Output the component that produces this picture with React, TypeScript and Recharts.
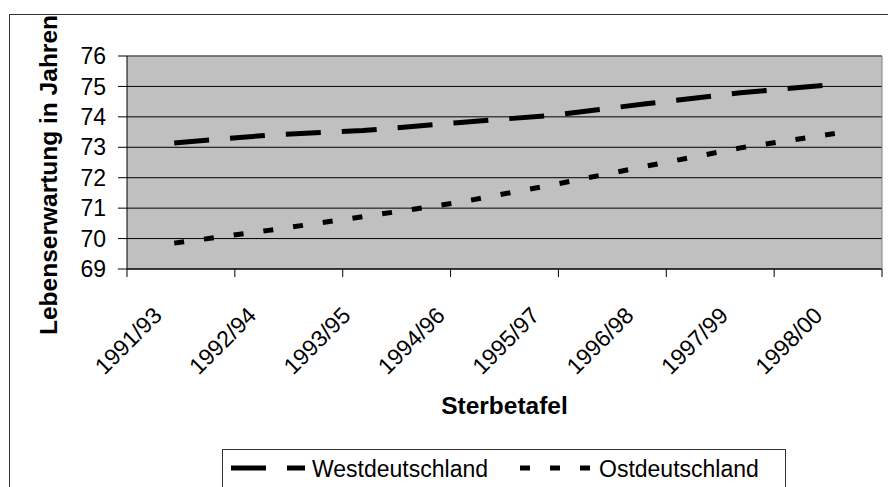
import { CartesianGrid, Label, Line, LineChart, ReferenceLine, XAxis, YAxis } from "recharts"

const FONT = "'Liberation Sans', Arial, Helvetica, sans-serif"

const sterbetafeln = ["1991/93", "1992/94", "1993/95", "1994/96", "1995/97", "1996/98", "1997/99", "1998/00"]
const westdeutschland = [73.14, 73.4, 73.55, 73.81, 74.05, 74.43, 74.79, 75.07]
const ostdeutschland = [69.85, 70.27, 70.72, 71.18, 71.76, 72.38, 72.98, 73.45]
const yTicks = [69, 70, 71, 72, 73, 74, 75, 76]
// tick marks sit between the categories, like in Excel
const boundaryTicks = [0, 1, 2, 3, 4, 5, 6, 7, 8]

const data = sterbetafeln.map((name, i) => ({
  name,
  west: westdeutschland[i],
  ost: ostdeutschland[i],
}))

function CategoryTick(props: { x?: number; y?: number; payload?: { value: string } }) {
  const x = (props.x ?? 0) - 11
  const y = (props.y ?? 0) + 47
  return (
    <text
      x={x}
      y={y}
      transform={`rotate(-45, ${x}, ${y})`}
      textAnchor="end"
      fontSize={23}
      fontFamily={FONT}
      fill="#000"
    >
      {props.payload?.value}
    </text>
  )
}

// tick line only, the labels come from the category axis
function BoundaryTick(props: { x?: number; y?: number }) {
  const x = props.x ?? 0
  const y = props.y ?? 0
  return <line x1={x} y1={y} x2={x} y2={y + 8} stroke="#000" strokeWidth={1} />
}

function ValueTick(props: { x?: number; y?: number; payload?: { value: number } }) {
  const x = props.x ?? 0
  const y = props.y ?? 0
  return (
    <g>
      <line x1={x + 12} y1={y} x2={x + 21} y2={y} stroke="#000" strokeWidth={1} />
      <text
        x={x}
        y={y}
        dy="0.355em"
        textAnchor="end"
        fontSize={23}
        fontFamily={FONT}
        fill="#000"
      >
        {props.payload?.value}
      </text>
    </g>
  )
}

function LegendBox() {
  return (
    <svg
      width={565}
      height={50}
      style={{ position: "absolute", left: 222, top: 449, overflow: "visible" }}
    >
      <rect x={0.5} y={0.5} width={563} height={60} fill="#fff" stroke="#333" />
      <line x1={9} y1={19} x2={83} y2={19} stroke="#000" strokeWidth={5} strokeDasharray="35 21" />
      <text x={90} y={27.5} fontSize={23} fontFamily={FONT} fill="#000">
        Westdeutschland
      </text>
      <line x1={298} y1={19} x2={368} y2={19} stroke="#000" strokeWidth={5} strokeDasharray="10 20" />
      <text x={377} y={27.5} fontSize={23} fontFamily={FONT} fill="#000">
        Ostdeutschland
      </text>
    </svg>
  )
}

export default function App() {
  return (
    <div
      style={{
        position: "absolute",
        left: 0,
        top: 0,
        width: 888,
        height: 487,
        overflow: "hidden",
        background: "#fff",
      }}
    >
      <div
        style={{
          position: "absolute",
          left: 9,
          top: 14,
          width: 1000,
          height: 1000,
          border: "1px solid #333",
        }}
      />
      <div style={{ position: "absolute", left: 0, top: 0 }}>
        <LineChart width={888} height={487} data={data} margin={{ top: 56, right: 5, bottom: 216, left: 0 }}>
          <CartesianGrid
            xAxisId="cat"
            yAxisId="left"
            vertical={false}
            fill="#C0C0C0"
            stroke="#000"
            fillOpacity={1}
          />
          <ReferenceLine xAxisId="cat" yAxisId="left" y={76} stroke="#808080" />
          <XAxis
            xAxisId="bounds"
            type="number"
            domain={[0, 8]}
            ticks={boundaryTicks}
            interval={0}
            height={1}
            tickSize={0}
            tickMargin={0}
            tickLine={false}
            tick={<BoundaryTick />}
            stroke="#000"
            axisLine={{ stroke: "#000" }}
          />
          <XAxis
            xAxisId="cat"
            dataKey="name"
            scale="band"
            interval={0}
            height={1}
            axisLine={false}
            tickLine={false}
            tickSize={0}
            tickMargin={0}
            tick={<CategoryTick />}
          >
            <Label
              content={(p: any) => {
                const vb = p.viewBox ?? { x: 127, y: 269, width: 755 }
                return (
                  <text
                    x={vb.x + vb.width / 2}
                    y={vb.y + 144}
                    textAnchor="middle"
                    fontSize={24.5}
                    fontWeight="bold"
                    fontFamily={FONT}
                    fill="#000"
                  >
                    Sterbetafel
                  </text>
                )
              }}
            />
          </XAxis>
          <YAxis
            yAxisId="left"
            domain={[69, 76]}
            ticks={yTicks}
            interval={0}
            width={127}
            tickSize={9}
            tickMargin={12}
            tickLine={false}
            stroke="#000"
            axisLine={{ stroke: "#000" }}
            tick={<ValueTick />}
          >
            <Label
              content={() => (
                <text
                  x={57}
                  y={175}
                  transform="rotate(-90, 57, 175)"
                  textAnchor="middle"
                  fontSize={24.5}
                  fontWeight="bold"
                  fontFamily={FONT}
                  fill="#000"
                >
                  Lebenserwartung in Jahren
                </text>
              )}
            />
          </YAxis>
          <YAxis
            yAxisId="right"
            orientation="right"
            domain={[69, 76]}
            width={1}
            tick={false}
            tickLine={false}
            stroke="#808080"
            axisLine={{ stroke: "#808080" }}
          />
          <Line
            xAxisId="cat"
            yAxisId="left"
            dataKey="west"
            name="Westdeutschland"
            stroke="#000"
            strokeWidth={5}
            strokeDasharray="35 21"
            strokeLinecap="butt"
            type="linear"
            dot={false}
            activeDot={false}
            isAnimationActive={false}
          />
          <Line
            xAxisId="cat"
            yAxisId="left"
            dataKey="ost"
            name="Ostdeutschland"
            stroke="#000"
            strokeWidth={5}
            strokeDasharray="10 20"
            strokeLinecap="butt"
            type="linear"
            dot={false}
            activeDot={false}
            isAnimationActive={false}
          />
        </LineChart>
      </div>
      <LegendBox />
    </div>
  )
}
